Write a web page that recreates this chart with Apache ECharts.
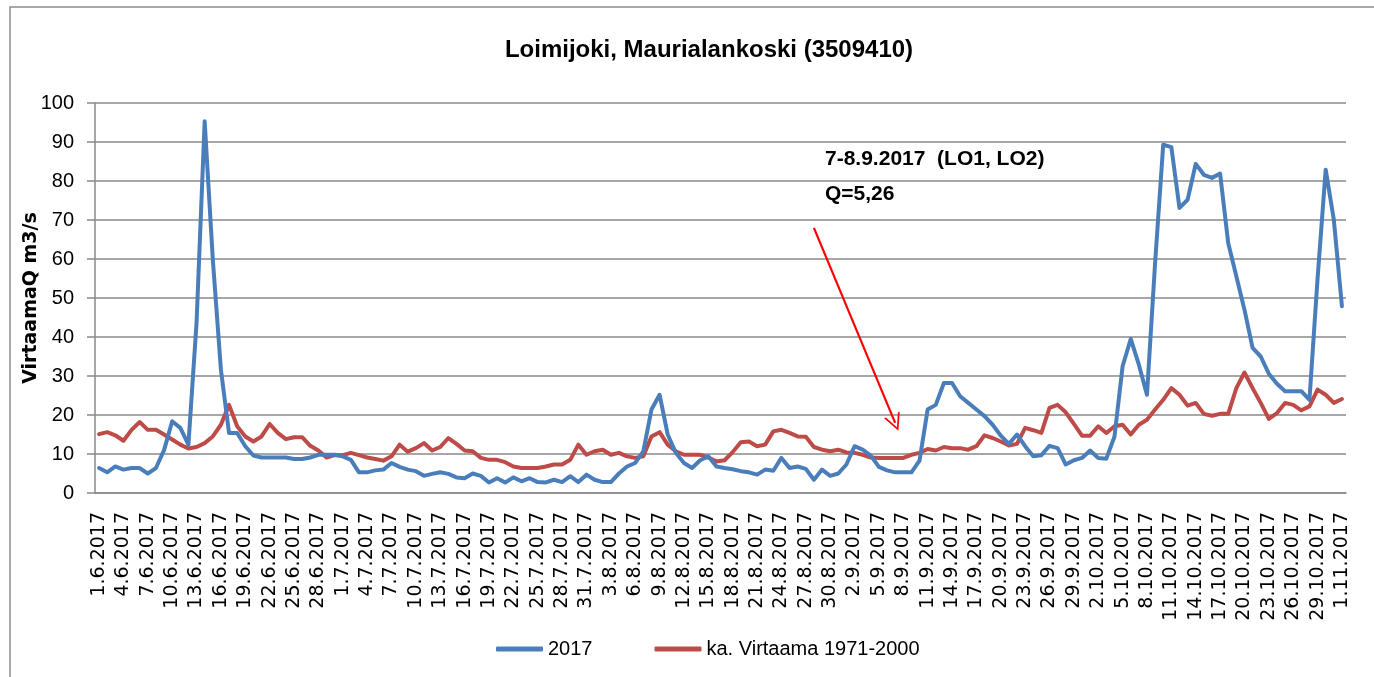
<!DOCTYPE html>
<html>
<head>
<meta charset="utf-8">
<script src="https://cdn.jsdelivr.net/npm/echarts@6/dist/echarts.min.js"></script>
<style>
html,body{margin:0;padding:0;background:#fff;}
#chart{width:1374px;height:677px;}
</style>
</head>
<body>
<div id="chart"></div>
<script>
// Date categories 1.6.2017 .. 1.11.2017 (daily)
const monthLengths = [[6, 30], [7, 31], [8, 31], [9, 30], [10, 31], [11, 1]];
const categories = [];
monthLengths.forEach(function (m) {
  for (let d = 1; d <= m[1]; d++) categories.push(d + '.' + m[0] + '.2017');
});

const flow2017 = [
  6.4, 5.3, 6.8, 6.0, 6.4, 6.4, 5.0, 6.4, 11.0, 18.4,
  16.7, 12.4, 43.6, 95.3, 60.0, 31.6, 15.4, 15.4, 12.0, 9.6,
  9.1, 9.1, 9.1, 9.1, 8.7, 8.7, 9.1, 9.8, 9.8, 9.8,
  9.4, 8.5, 5.3, 5.3, 5.8, 6.0, 7.7, 6.7, 6.0, 5.6,
  4.4, 4.9, 5.3, 4.9, 4.0, 3.8, 5.0, 4.4, 2.7, 3.8,
  2.7, 4.0, 3.0, 3.8, 2.8, 2.7, 3.4, 2.8, 4.3, 2.8,
  4.7, 3.4, 2.8, 2.8, 5.0, 6.8, 7.7, 10.7, 21.4, 25.2,
  15.0, 10.3, 7.7, 6.4, 8.4, 9.4, 6.8, 6.4, 6.1, 5.6,
  5.3, 4.7, 6.0, 5.7, 9.0, 6.4, 6.8, 6.2, 3.4, 6.0,
  4.4, 5.0, 7.3, 12.0, 11.1, 9.6, 6.7, 5.8, 5.3, 5.3,
  5.3, 8.3, 21.4, 22.6, 28.2, 28.2, 24.8, 23.1, 21.4, 19.7,
  17.5, 14.7, 12.6, 15.0, 12.0, 9.4, 9.7, 12.1, 11.5, 7.3,
  8.4, 9.0, 10.9, 9.0, 8.8, 14.5, 32.5, 39.5, 32.9, 25.2,
  59.0, 89.3, 88.7, 73.1, 75.2, 84.4, 81.6, 80.8, 81.9, 64.1,
  55.6, 47.0, 37.2, 35.0, 30.6, 28.0, 26.1, 26.1, 26.1, 23.9,
  55.0, 82.9, 70.1, 47.9
];

const flowMean = [
  15.1, 15.6, 14.8, 13.4, 16.2, 18.2, 16.2, 16.2, 15.0, 13.7,
  12.4, 11.4, 11.8, 12.8, 14.5, 17.5, 22.6, 17.1, 14.5, 13.2,
  14.5, 17.7, 15.4, 13.8, 14.3, 14.3, 12.1, 10.9, 9.1, 9.7,
  9.7, 10.3, 9.7, 9.1, 8.7, 8.3, 9.4, 12.4, 10.6, 11.5,
  12.8, 10.9, 11.8, 14.1, 12.6, 10.9, 10.7, 9.0, 8.5, 8.5,
  7.9, 6.8, 6.4, 6.4, 6.4, 6.8, 7.3, 7.3, 8.5, 12.4,
  9.8, 10.7, 11.1, 9.8, 10.3, 9.4, 9.0, 9.4, 14.5, 15.6,
  12.4, 10.7, 9.8, 9.8, 9.8, 9.1, 8.1, 8.4, 10.5, 13.0,
  13.2, 12.0, 12.4, 15.8, 16.2, 15.4, 14.5, 14.4, 11.8, 11.1,
  10.7, 11.1, 10.4, 10.3, 9.8, 9.1, 9.0, 9.0, 9.0, 9.0,
  9.8, 10.3, 11.3, 10.9, 11.8, 11.5, 11.5, 11.1, 12.0, 14.8,
  14.1, 13.2, 12.2, 12.6, 16.7, 16.1, 15.4, 21.8, 22.6, 20.7,
  17.7, 14.7, 14.7, 17.1, 15.4, 17.1, 17.5, 15.0, 17.5, 18.8,
  21.4, 23.9, 26.9, 25.2, 22.4, 23.1, 20.3, 19.8, 20.3, 20.3,
  26.9, 30.9, 26.9, 23.1, 19.0, 20.5, 23.1, 22.6, 21.2, 22.2,
  26.5, 25.2, 23.1, 24.1
];

const seriesNames = ['2017', 'ka. Virtaama 1971-2000'];
const yTicks = { min: 0, max: 100, interval: 10 };
const annotationLines = ['7-8.9.2017  (LO1, LO2)', 'Q=5,26'];
// arrow: from (category index, value) to (category index, value)
const arrowFrom = [88, 68];
const arrowTo = [98, 18];

const chart = echarts.init(document.getElementById('chart'), null, { renderer: 'canvas' });

const gridColor = '#8a8a8a';
const chevron = 'path://M8.5,0 L17,17 L15,17 L8.5,3.8 L2,17 L0,17 Z';

chart.setOption({
  animation: false,
  backgroundColor: '#fff',
  title: {
    text: 'Loimijoki, Maurialankoski (3509410)',
    left: 704,
    textAlign: 'center',
    top: 33,
    textStyle: {
      fontFamily: '"Liberation Sans", sans-serif',
      fontWeight: 'bold',
      fontSize: 24,
      color: '#000'
    }
  },
  legend: {
    left: 491,
    top: 634,
    itemWidth: 47,
    itemHeight: 5,
    itemGap: 62,
    icon: 'roundRect',
    textStyle: {
      fontFamily: '"Liberation Sans", sans-serif',
      fontSize: 20,
      color: '#000'
    },
    data: seriesNames
  },
  grid: { left: 95, right: 28, top: 103, bottom: 184, containLabel: false },
  xAxis: {
    type: 'category',
    data: categories,
    boundaryGap: true,
    axisLine: { lineStyle: { color: gridColor, width: 1.5 } },
    axisTick: { interval: 2, length: 7, lineStyle: { color: gridColor, width: 1.2 } },
    axisLabel: {
      interval: 2,
      rotate: 90,
      margin: 19,
      fontFamily: '"DejaVu Sans", sans-serif',
      fontSize: 19,
      color: '#000'
    },
    splitLine: { show: false }
  },
  yAxis: {
    type: 'value',
    min: yTicks.min,
    max: yTicks.max,
    interval: yTicks.interval,
    name: 'VirtaamaQ m3/s',
    nameLocation: 'middle',
    nameRotate: 90,
    nameGap: 54,
    nameMoveOverlap: false,
    nameTextStyle: {
      fontFamily: '"DejaVu Sans", sans-serif',
      fontWeight: 'bold',
      fontSize: 19,
      color: '#000'
    },
    axisLine: { show: true, lineStyle: { color: gridColor, width: 1.5 } },
    axisTick: { show: true, length: 8, lineStyle: { color: gridColor, width: 1.5 } },
    axisLabel: {
      margin: 21,
      fontFamily: '"Liberation Sans", sans-serif',
      fontSize: 20,
      color: '#000'
    },
    splitLine: { show: true, lineStyle: { color: gridColor, width: 1.5 } }
  },
  series: [
    {
      name: seriesNames[0],
      type: 'line',
      data: flow2017,
      showSymbol: false,
      symbol: 'none',
      color: '#4A7EBB',
      lineStyle: { color: '#4A7EBB', width: 4, join: 'round', cap: 'round' },
      z: 3
    },
    {
      name: seriesNames[1],
      type: 'line',
      data: flowMean,
      showSymbol: false,
      symbol: 'none',
      color: '#BE4B48',
      lineStyle: { color: '#BE4B48', width: 4, join: 'round', cap: 'round' },
      z: 2,
      markLine: {
        silent: true,
        symbol: ['none', chevron],
        symbolSize: [17, 17],
        label: { show: false },
        lineStyle: { color: '#FF0000', width: 2.2, type: 'solid' },
        emphasis: { disabled: true },
        data: [[{ coord: arrowFrom }, { coord: arrowTo }]]
      }
    }
  ],
  graphic: [
    {
      type: 'rect',
      silent: true,
      shape: { x: 10, y: 7, width: 1380, height: 700 },
      style: { fill: 'none', stroke: '#8c8c8c', lineWidth: 1.5 }
    },
    {
      type: 'text',
      left: 825,
      top: 149,
      style: {
        text: annotationLines[0],
        font: 'bold 21px "Liberation Sans", sans-serif',
        fill: '#000'
      }
    },
    {
      type: 'text',
      left: 825,
      top: 184,
      style: {
        text: annotationLines[1],
        font: 'bold 21px "Liberation Sans", sans-serif',
        fill: '#000'
      }
    }
  ]
});
</script>
</body>
</html>
